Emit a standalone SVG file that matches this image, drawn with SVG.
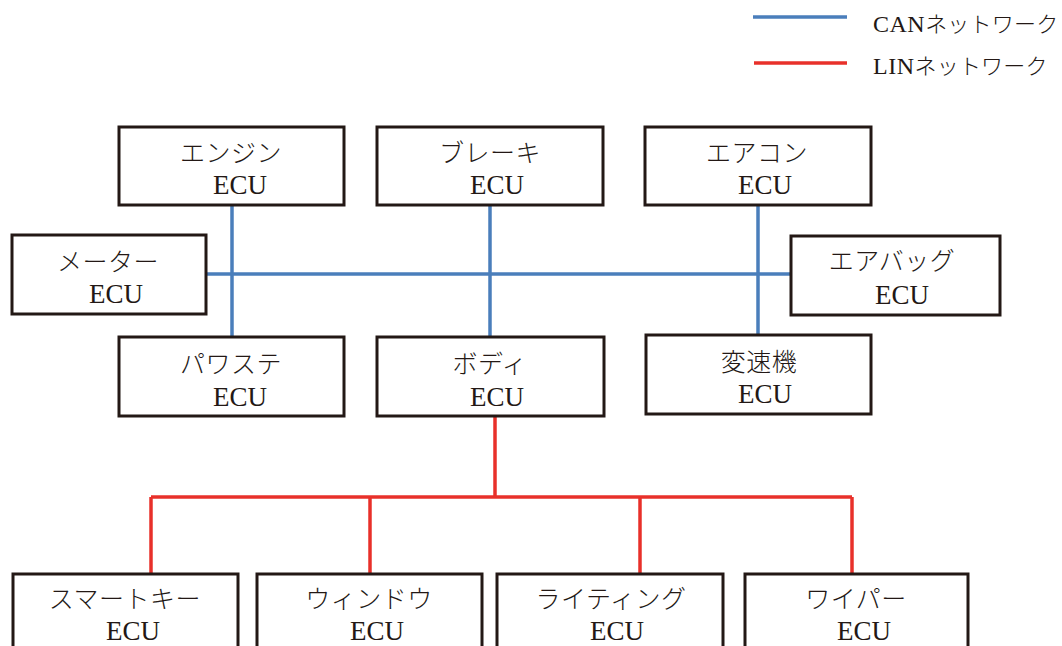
<svg xmlns="http://www.w3.org/2000/svg" width="1062" height="646" viewBox="0 0 1062 646">
<style>
.box{fill:#fff;stroke:#231815;stroke-width:3}
.jp{font-family:"Liberation Serif","Noto Sans CJK JP",serif;font-size:25px;font-weight:300;fill:#231815;text-anchor:middle;letter-spacing:0.5px}
.ecu{font-family:"Liberation Serif","Noto Sans CJK JP",serif;font-size:27px;fill:#231815;text-anchor:middle}
.leg{font-family:"Liberation Serif","Noto Sans CJK JP",serif;font-size:22px;font-weight:300;fill:#231815;letter-spacing:0.2px}
.lat{font-size:24px;letter-spacing:0.5px}
.can{stroke:#4a7ebb;stroke-width:3.5;fill:none}
.lin{stroke:#e8302a;stroke-width:3.5;fill:none}
</style>
<rect width="1062" height="646" fill="#fff"/>
<g id="legend">
<line class="can" x1="753" y1="17" x2="847" y2="17"/>
<text class="leg" x="873" y="32"><tspan class="lat">CAN</tspan>ネットワーク</text>
<line class="lin" x1="754" y1="63" x2="847" y2="63"/>
<text class="leg" x="873" y="74"><tspan class="lat">LIN</tspan>ネットワーク</text>
</g>
<g id="connectors">
<line class="can" x1="232" y1="205" x2="232" y2="337"/>
<line class="can" x1="490" y1="205" x2="490" y2="337"/>
<line class="can" x1="758" y1="205" x2="758" y2="335"/>
<line class="can" x1="206" y1="274" x2="791" y2="274"/>
<line class="lin" x1="495" y1="416" x2="495" y2="497"/>
<line class="lin" x1="151" y1="497" x2="852" y2="497"/>
<line class="lin" x1="151" y1="497" x2="151" y2="574"/>
<line class="lin" x1="370" y1="497" x2="370" y2="574"/>
<line class="lin" x1="640" y1="497" x2="640" y2="574"/>
<line class="lin" x1="852" y1="497" x2="852" y2="574"/>
</g>
<g id="engine"><rect class="box" x="119" y="127" width="225" height="78"/><text class="jp" x="231" y="162">エンジン</text><text class="ecu" x="240" y="194">ECU</text></g>
<g id="brake"><rect class="box" x="377" y="127" width="226" height="78"/><text class="jp" x="490" y="162">ブレーキ</text><text class="ecu" x="497" y="194">ECU</text></g>
<g id="aircon"><rect class="box" x="645" y="127" width="226" height="78"/><text class="jp" x="757" y="162">エアコン</text><text class="ecu" x="765" y="194">ECU</text></g>
<g id="meter"><rect class="box" x="12" y="235" width="194" height="79"/><text class="jp" x="108" y="271">メーター</text><text class="ecu" x="116" y="303">ECU</text></g>
<g id="airbag"><rect class="box" x="791" y="236" width="209" height="79"/><text class="jp" x="892" y="270">エアバッグ</text><text class="ecu" x="902" y="304">ECU</text></g>
<g id="powersteer"><rect class="box" x="119" y="337" width="225" height="79"/><text class="jp" x="231" y="373">パワステ</text><text class="ecu" x="240" y="406">ECU</text></g>
<g id="body"><rect class="box" x="377" y="337" width="227" height="79"/><text class="jp" x="490" y="373">ボディ</text><text class="ecu" x="497" y="406">ECU</text></g>
<g id="transmission"><rect class="box" x="646" y="335" width="225" height="79"/><text class="jp" x="759" y="371">変速機</text><text class="ecu" x="765" y="403">ECU</text></g>
<g id="smartkey"><rect class="box" x="13" y="574" width="225" height="100"/><text class="jp" x="125" y="608">スマートキー</text><text class="ecu" x="133" y="640">ECU</text></g>
<g id="window"><rect class="box" x="257" y="574" width="225" height="100"/><text class="jp" x="369" y="608">ウィンドウ</text><text class="ecu" x="377" y="640">ECU</text></g>
<g id="lighting"><rect class="box" x="497" y="574" width="226" height="100"/><text class="jp" x="611" y="608">ライティング</text><text class="ecu" x="617" y="640">ECU</text></g>
<g id="wiper"><rect class="box" x="745" y="574" width="223" height="100"/><text class="jp" x="856" y="608">ワイパー</text><text class="ecu" x="864" y="640">ECU</text></g>
</svg>
